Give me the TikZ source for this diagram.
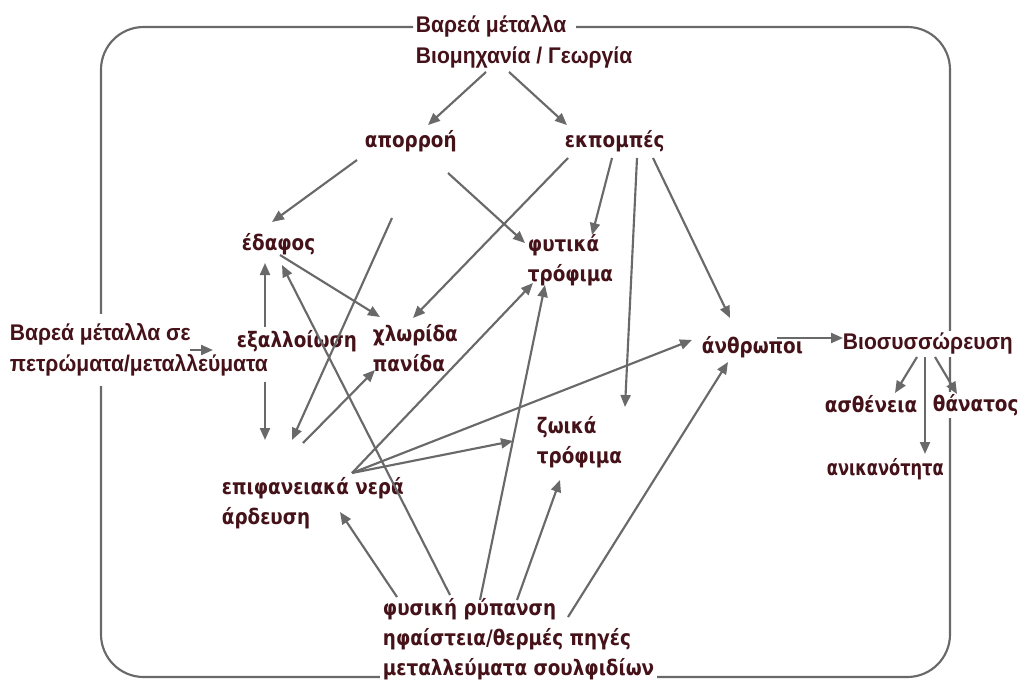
\documentclass[tikz,border=0pt]{standalone}
\usepackage{fontspec}
\newfontfamily\arialfont[FakeStretch=0.93]{Liberation Sans}
\newfontfamily\verdfont[FakeStretch=0.86]{DejaVu Sans}
\newfontfamily\verdnarrow[FakeStretch=0.76]{DejaVu Sans Bold}
\usetikzlibrary{arrows.meta,calc}
\definecolor{txtred}{RGB}{68,18,24}
\definecolor{linegray}{RGB}{105,105,105}
\tikzset{
  lbl/.style={font=\verdfont\bfseries\fontsize{16}{22.5}\selectfont, text=txtred, inner sep=2pt, align=left, anchor=west},
  hdr/.style={font=\arialfont\bfseries\fontsize{17}{23.25}\selectfont, text=txtred, inner sep=2pt, align=left, anchor=west},
  arr/.style={draw=linegray, line width=1.6pt, -{Triangle[length=9pt,width=7.5pt]}},
  boxline/.style={draw=linegray, line width=1.6pt, rounded corners=32pt},
}

\begin{document}
\begin{tikzpicture}[x=0.75pt,y=0.75pt,yscale=-1,xscale=1]
\path[use as bounding box, fill=white] (0,0) rectangle (1024,681);

%Rounded frame, open under the title
\draw[boxline] (413,27) -- (101,27) -- (101,677) -- (950,677) -- (950,27) -- (576,27);

% Text Node
\node[hdr] (top) at (413,42) {Βαρεά μέταλλα\\Βιομηχανία / Γεωργία};
% Text Node
\node[hdr,fill=white,inner ysep=7pt] (left) at (7,350) {Βαρεά μέταλλα σε\\πετρώματα/μεταλλεύματα};
% Text Node
\node[hdr,fill=white] (bios) at (840,344) {Βιοσυσσώρευση};
% Text Node
\node[lbl] (apor) at (362,141) {απορροή};
% Text Node
\node[lbl] (ekp) at (562,141) {εκπομπές};
% Text Node
\node[lbl] (edafos) at (239,244) {έδαφος};
% Text Node
\node[lbl] (fytika) at (525,260) {φυτικά\\τρόφιμα};
% Text Node
\node[lbl] (exall) at (234,341) {εξαλλοίωση};
% Text Node
\node[lbl] (chlor) at (370,348) {χλωρίδα\\πανίδα};
% Text Node
\node[lbl] (anthr) at (699,347) {άνθρωποι};
% Text Node
\node[lbl] (asth) at (822,404) {ασθένεια};
% Text Node
\node[lbl,fill=white] (thanat) at (930,405) {θάνατος};
% Text Node
\node[lbl,fill=white,font=\verdnarrow\fontsize{16}{22.5}\selectfont] (anik) at (824,469) {ανικανότητα};
% Text Node
\node[lbl] (zoika) at (534,442) {ζωικά\\τρόφιμα};
% Text Node
\node[lbl] (epif) at (219,503) {επιφανειακά νερά\\άρδευση};
% Text Node
\node[lbl,fill=white] (fysiki) at (380,639) {φυσική ρύπανση\\ηφαίστεια/θερμές πηγές\\μεταλλεύματα σουλφιδίων};

%Arrows from the source
\draw[arr] ($(top.west)+(73,30)$) -- ($(apor.west)+(66,-16)$);
\draw[arr] ($(top.west)+(96,30)$) -- ($(ekp.west)+(5,-16)$);
%Runoff
\draw[arr] ($(apor.west)+(-5,19)$) -- ($(edafos.west)+(33,-22)$);
\draw[arr] ($(apor.west)+(86,32)$) -- ($(fytika.west)+(0,-17)$);
\draw[arr] ($(apor.west)+(30,77)$) -- ($(epif.west)+(73,-63)$);
%Emissions
\draw[arr] ($(ekp.west)+(6,17)$) -- ($(chlor.west)+(43,-30)$);
\draw[arr] ($(ekp.west)+(50,17)$) -- ($(fytika.west)+(67,-25)$);
\draw[arr] ($(ekp.west)+(75,17)$) -- ($(zoika.west)+(91,-35)$);
\draw[arr] ($(ekp.west)+(91,17)$) -- ($(anthr.west)+(31,-29)$);
%Soil and weathering
\draw[arr] ($(edafos.west)+(41,11)$) -- ($(chlor.west)+(10,-31)$);
\draw[arr] ($(exall.west)+(31,-14)$) -- ($(edafos.west)+(26,19)$);
\draw[arr] ($(exall.west)+(31,41)$) -- ($(epif.west)+(46,-63)$);
\draw[arr] ($(left.west)+(183,0)$) -- ($(exall.west)+(-21,9)$);
%Surface water
\draw[arr] ($(epif.west)+(84,-60)$) -- ($(chlor.west)+(5,22)$);
\draw[arr] ($(epif.west)+(133,-30)$) -- ($(fytika.west)+(8,23)$);
\draw[arr] ($(epif.west)+(133,-30)$) -- ($(anthr.west)+(-7,-7)$);
\draw[arr] ($(epif.west)+(133,-30)$) -- ($(zoika.west)+(-21,-1)$);
%Natural pollution
\draw[arr] ($(fysiki.west)+(70,-44)$) -- ($(edafos.west)+(43,21)$);
\draw[arr] ($(fysiki.west)+(17,-42)$) -- ($(epif.west)+(121,9)$);
\draw[arr] ($(fysiki.west)+(100,-39)$) -- ($(fytika.west)+(20,25)$);
\draw[arr] ($(fysiki.west)+(137,-39)$) -- ($(zoika.west)+(26,38)$);
\draw[arr] ($(fysiki.west)+(188,-22)$) -- ($(anthr.west)+(29,15)$);
%Bioaccumulation
\draw[arr] ($(anthr.west)+(78,-9)$) -- ($(bios.west)+(3,-6)$);
\draw[arr] ($(bios.west)+(77,13)$) -- ($(asth.west)+(73,-11)$);
\draw[arr] ($(bios.west)+(85,13)$) -- ($(anik.west)+(101,-15)$);
\draw[arr] ($(bios.west)+(95,13)$) -- ($(thanat.west)+(27,-11)$);

\end{tikzpicture}
\end{document}
